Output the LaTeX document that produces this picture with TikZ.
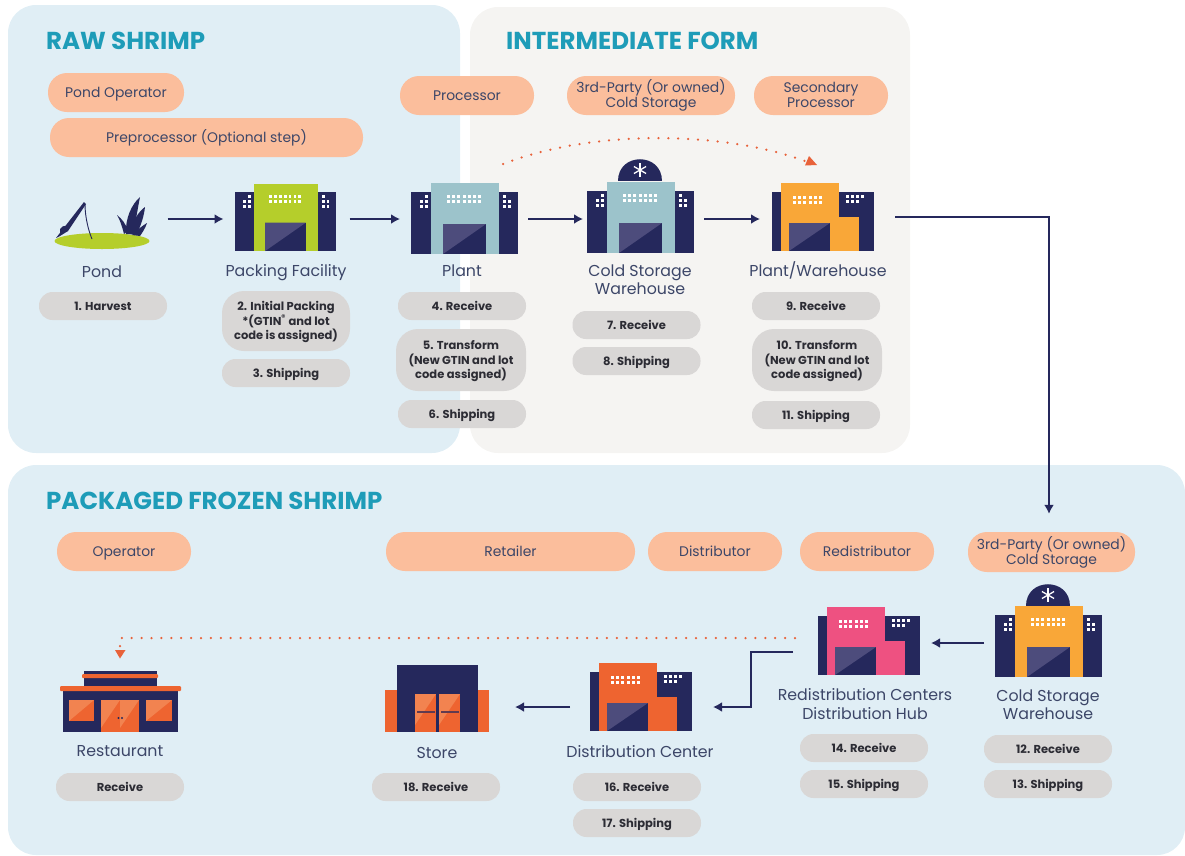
\documentclass[tikz,border=0pt]{standalone}
\usepackage{fontspec}
\setmainfont{Poppins}
\usetikzlibrary{arrows.meta}
\definecolor{navy}{HTML}{25285C}
\definecolor{doorl}{HTML}{4D4C7C}
\definecolor{panelblue}{HTML}{E0EEF5}
\definecolor{panelgrey}{HTML}{F5F4F2}
\definecolor{titleteal}{HTML}{1E9CB8}
\definecolor{peach}{HTML}{FBBE9C}
\definecolor{pillgrey}{HTML}{D9D7D6}
\definecolor{limeb}{HTML}{B5CE2B}
\definecolor{tealb}{HTML}{9CC3CB}
\definecolor{ambb}{HTML}{F9A738}
\definecolor{pinkb}{HTML}{EE5181}
\definecolor{orab}{HTML}{EE6430}
\definecolor{orali}{HTML}{F28350}
\definecolor{dotor}{HTML}{E8623A}
\definecolor{labtext}{HTML}{3C4668}
\definecolor{pilltext}{HTML}{2C2C34}
\tikzset{
  title/.style={anchor=west,text=titleteal,font=\fontsize{24.5}{28}\selectfont\bfseries,inner sep=0pt,text height=17pt,text depth=0pt},
  rolepill/.style={fill=peach,rounded corners=19pt,minimum height=39pt,inner sep=0pt,align=center,text=labtext,font=\fontsize{13.9}{15}\selectfont,text height=9.7pt,text depth=0pt},
  rolepill two/.style={rolepill,text height=24.7pt},
  steppill/.style={fill=pillgrey,rounded corners=13.5pt,minimum width=128pt,minimum height=28pt,inner sep=0pt,align=center,text=pilltext,font=\fontsize{11.5}{14.5}\selectfont\bfseries,text height=8pt,text depth=0pt},
  tallpill/.style={steppill,rounded corners=22pt,text height=37pt},
  place/.style={align=center,text=labtext,inner sep=0pt,font=\fontsize{15.8}{18.5}\selectfont,text height=11pt,text depth=0pt},
  place two/.style={place,text height=29.5pt},
  ghost/.style={minimum height=70pt,inner sep=0pt,outer sep=0pt},
  flow/.style={draw=navy,line width=2.6pt,-{Latex[length=9pt,width=10pt]}},
  dotted path/.style={draw=dotor,line width=2.5pt,line cap=round,dash pattern=on 0pt off 9.9pt},
  pics/centerbld/.style={code={
    \fill[navy] (0,-62) rectangle (107,0);
    \fill[#1] (20,-71) rectangle (88,0);
    \fill[navy] (32,-30) rectangle (75,0);
    \fill[doorl] (32,-30) -- (75,-30) -- (32,0) -- cycle;
    \foreach \wx in {36,41.2,...,68} \foreach \wy in {-56,-51} \fill[white] (\wx,\wy) rectangle +(3,-3);
    \fill[white] (14,-56) rectangle +(3,-3);
    \fill[white] (9,-51) rectangle +(3,-3);
    \fill[white] (14,-51) rectangle +(3,-3);
    \fill[white] (9,-46) rectangle +(3,-3);
    \fill[white] (14,-46) rectangle +(3,-3);
    \fill[white] (92,-56) rectangle +(3,-3);
    \fill[white] (92,-51) rectangle +(3,-3);
    \fill[white] (97,-51) rectangle +(3,-3);
    \fill[white] (92,-46) rectangle +(3,-3);
    \fill[white] (97,-46) rectangle +(3,-3);
  }},
  pics/stepbld/.style={code={
    \fill[navy] (0,-59) rectangle (102,0);
    \fill[#1] (9,-68) rectangle (67,0);
    \fill[#1] (67,-34) rectangle (87,0);
    \fill[navy] (17,-28) rectangle (58,0);
    \fill[doorl] (17,-28) -- (58,-28) -- (17,0) -- cycle;
    \foreach \wx in {21,26.2,...,52} \foreach \wy in {-52,-47} \fill[white] (\wx,\wy) rectangle +(3,-3);
    \foreach \wx in {74,79,84,89} \fill[white] (\wx,-53) rectangle +(3,-3);
    \foreach \wx in {74,79,84} \fill[white] (\wx,-48) rectangle +(3,-3);
  }},
  pics/dome/.style={code={
    \fill[navy] (-22,0) .. controls (-22,-29.3) and (22,-29.3) .. (22,0) -- cycle;
    \foreach \ang in {0,60,120} \draw[white,line width=1.3pt] ([shift={(0,-11)}]\ang+90:7pt) -- ([shift={(0,-11)}]\ang+270:7pt);
  }},
}
\begin{document}
\begin{tikzpicture}[x=1pt,y=-1pt]
\useasboundingbox (0,0) rectangle (1185,855);
% panels
\fill[panelblue,rounded corners=28pt] (8,5) rectangle (460,453);
\fill[panelgrey,rounded corners=28pt] (470,7) rectangle (910,453);
\fill[panelblue,rounded corners=28pt] (8,465) rectangle (1185,855);
% titles
\node[title] (t1) at (46,41) {RAW SHRIMP};
\node[title] (t2) at (506,41) {INTERMEDIATE FORM};
\node[title] (t3) at (46,501) {PACKAGED FROZEN SHRIMP};
% role pills
\node[rolepill,minimum width=136pt] (r1) at (116,92.5) {Pond Operator};
\node[rolepill,minimum width=313pt] (r2) at (206.5,137.5) {Preprocessor (Optional step)};
\node[rolepill,minimum width=134pt] (r3) at (467,95.5) {Processor};
\node[rolepill two,minimum width=168pt] (r4) at (651,95.5) {3rd-Party (Or owned)\\Cold Storage};
\node[rolepill two,minimum width=134pt] (r5) at (821,95.5) {Secondary\\Processor};
\node[rolepill,minimum width=134pt] (r6) at (124,551.5) {Operator};
\node[rolepill,minimum width=249pt] (r7) at (510.5,551.5) {Retailer};
\node[rolepill,minimum width=134pt] (r8) at (715,551.5) {Distributor};
\node[rolepill,minimum width=134pt] (r9) at (867,551.5) {Redistributor};
\node[rolepill two,minimum width=167pt,minimum height=40pt] (r10) at (1051.5,552) {3rd-Party (Or owned)\\Cold Storage};
% anchors for the icons
\node[ghost,minimum width=95pt] (pond) at (102,219) {};
\node[ghost,minimum width=101pt] (packing) at (286,219) {};
\node[ghost,minimum width=107pt] (plant) at (464.5,219) {};
\node[ghost,minimum width=106pt] (coldA) at (640,219) {};
\node[ghost,minimum width=102pt] (plantw) at (823,219) {};
\node[ghost,minimum width=106pt] (coldB) at (1048,643) {};
\node[ghost,minimum width=101pt] (redis) at (868.5,643) {};
\node[ghost,minimum width=102pt] (distc) at (641,707) {};
\node[ghost,minimum width=104pt] (store) at (437,707) {};
\node[ghost,minimum width=121pt] (rest) at (120.5,700) {};
% pond
\fill[limeb] (102,241) ellipse [x radius=47.5pt,y radius=8pt];
\fill[navy] (56,238) -- (84,202) -- (86,204) -- (68,231) -- (60,236) -- cycle;
\fill[navy] (60,229) .. controls (63,224) and (69,225) .. (68,231) -- (60,234) -- cycle;
\draw[navy,line width=.9pt] (85,204) .. controls (85,218) and (89,232) .. (92,239);
\fill[navy] (124,234) .. controls (122,226) and (120,220) .. (117,215) .. controls (122,219) and (126,224) .. (128,231) -- cycle;
\fill[navy] (126,234) .. controls (125,218) and (132,204) .. (140,197) .. controls (138,207) and (136,220) .. (133,234) -- cycle;
\fill[navy] (130,234) .. controls (132,222) and (138,212) .. (145,207) .. controls (144,216) and (141,226) .. (136,235) -- cycle;
\fill[navy] (132,235) .. controls (137,230) and (142,226) .. (147,223) .. controls (145,229) and (142,233) .. (140,236) -- cycle;
% buildings
\path (640,181) pic {dome};
\path (1048,606) pic {dome};
\path (235,251) pic[scale=.944] {centerbld=limeb};
\path (411,254) pic {centerbld=tealb};
\path (587,253) pic {centerbld=tealb};
\path (772,251) pic {stepbld=ambb};
\path (995,677) pic {centerbld=ambb};
\path (818,675) pic {stepbld=pinkb};
\path (590,731) pic {stepbld=orab};
% store
\fill[orab] (385,690) rectangle (489,732);
\fill[navy] (397,665) rectangle (478,732);
\fill[orab] (415,694) rectangle (436,732);
\fill[orab] (439,694) rectangle (460,732);
\fill[orali] (415,694) -- (436,694) -- (415,725) -- cycle;
\fill[orali] (439,694) -- (460,694) -- (439,725) -- cycle;
\fill[navy!70!orab] (417,711) rectangle (435,712.5);
\fill[navy!70!orab] (441,711) rectangle (459,712.5);
% restaurant
\fill[navy] (84,671) rectangle (157,686);
\fill[orab,rounded corners=1pt] (82,674) rectangle (158,678);
\fill[navy] (63,691) rectangle (178,732);
\fill[orab,rounded corners=1pt] (60,686) rectangle (181,691);
\fill[orab] (69,700) rectangle (94,721);
\fill[orali] (69,700) -- (94,700) -- (69,721) -- cycle;
\fill[orab] (146,700) rectangle (172,721);
\fill[orali] (146,700) -- (172,700) -- (146,721) -- cycle;
\fill[orab] (101,700) rectangle (139,732);
\fill[orali] (101,700) -- (120,700) -- (101,728) -- cycle;
\fill[orali] (120,700) -- (139,700) -- (120,728) -- cycle;
\fill[navy] (118.5,718) circle (1.2pt);
\fill[navy] (122,718) circle (1.2pt);
% connectors
\draw[flow] ([xshift=18pt]pond.east) -- ([xshift=-12pt]packing.west);
\draw[flow] ([xshift=13pt]packing.east) -- ([xshift=-11pt]plant.west);
\draw[flow] ([xshift=10pt]plant.east) -- ([xshift=-4pt]coldA.west);
\draw[flow] ([xshift=11pt]coldA.east) -- ([xshift=-12pt]plantw.west);
\draw[flow] ([xshift=21pt,yshift=2pt]plantw.east) -| ([xshift=-2.5pt,yshift=18pt]r10.north);
\draw[flow] ([xshift=-11pt]coldB.west) -- ([xshift=12pt]redis.east);
\coordinate (rdout) at ([xshift=-25pt,yshift=-9pt]redis.west);
\draw[flow] (rdout) -- ++(-42,0) |- ([xshift=21pt]distc.east);
\draw[flow] ([xshift=-20pt]distc.west) -- ([xshift=26pt]store.east);
% dotted connectors
\draw[dotted path] (503,164) .. controls (590,130) and (720,130) .. (805,161);
\fill[dotor] (817,165) -- (805,165.5) -- (809,156) -- cycle;
\draw[dotted path] ([xshift=-23pt,yshift=5pt]redis.west) -- (120,638) -- (120,648);
\fill[dotor] (115,650) -- (125.5,650) -- (120,658.5) -- cycle;
% place labels
\node[place] (l1) at (102,272) {Pond};
\node[place] (l2) at (286,271) {Packing Facility};
\node[place] (l3) at (462,271) {Plant};
\node[place two] (l4) at (640,280) {Cold Storage\\Warehouse};
\node[place] (l5) at (818,271) {Plant/Warehouse};
\node[place] (l6) at (120,751) {Restaurant};
\node[place] (l7) at (437,753) {Store};
\node[place] (l8) at (640,752) {Distribution Center};
\node[place two] (l9) at (865,704.5) {Redistribution Centers\\Distribution Hub};
\node[place two] (l10) at (1048,705) {Cold Storage\\Warehouse};
% step pills
\node[steppill] (s1) at (103,306) {1. Harvest};
\node[tallpill,minimum height=60pt] (s2) at (286,321) {2. Initial Packing\\*(GTIN\textsuperscript{®} and lot\\code is assigned)};
\node[steppill] (s3) at (286,373) {3. Shipping};
\node[steppill] (s4) at (462,306) {4. Receive};
\node[tallpill,minimum width=130pt,minimum height=62pt] (s5) at (461,360) {5. Transform\\(New GTIN and lot\\code assigned)};
\node[steppill] (s6) at (462,414) {6. Shipping};
\node[steppill] (s7) at (636.5,325) {7. Receive};
\node[steppill] (s8) at (636.5,361) {8. Shipping};
\node[steppill] (s9) at (816,306) {9. Receive};
\node[tallpill,minimum width=130pt,minimum height=62pt] (s10) at (817,360) {10. Transform\\(New GTIN and lot\\code assigned)};
\node[steppill] (s11) at (816,415) {11. Shipping};
\node[steppill] (s12) at (1048,749) {12. Receive};
\node[steppill] (s13) at (1048,784) {13. Shipping};
\node[steppill] (s14) at (864,748) {14. Receive};
\node[steppill] (s15) at (864,784) {15. Shipping};
\node[steppill] (s16) at (637,787) {16. Receive};
\node[steppill] (s17) at (637,823) {17. Shipping};
\node[steppill] (s18) at (436,787) {18. Receive};
\node[steppill] (s19) at (120,787) {Receive};
\end{tikzpicture}
\end{document}
